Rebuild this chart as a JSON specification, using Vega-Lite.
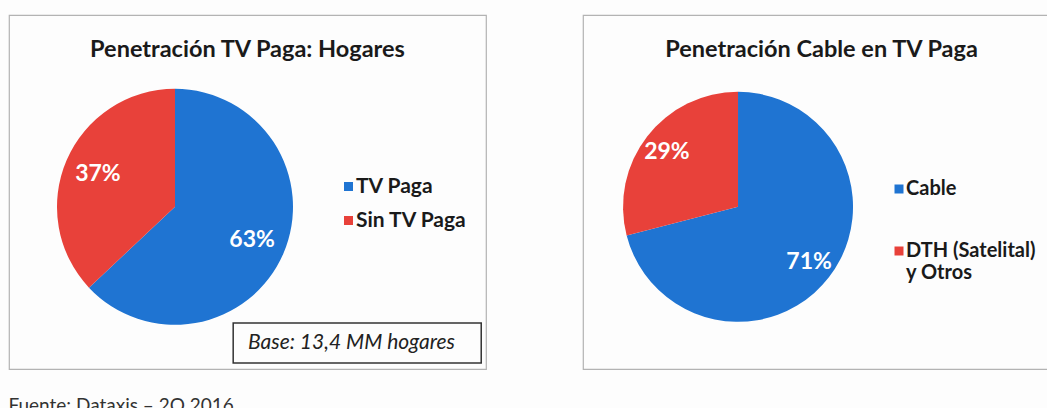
{
  "$schema": "https://vega.github.io/schema/vega-lite/v6.json",
  "background": "#fdfdfd",
  "padding": {"left": 8, "top": 14, "right": 0, "bottom": 0},
  "spacing": 95,
  "title": {"text": "Fuente: Dataxis – 2Q 2016", "orient": "bottom", "anchor": "start", "offset": 27, "font": "Lato", "fontSize": 19, "fontWeight": "normal", "color": "#333333"},
  "config": {"view": {"stroke": "#b3b3b3", "strokeWidth": 1.2}, "font": "Lato"},
  "resolve": {"scale": {"color": "independent", "theta": "independent", "x": "independent", "y": "independent"}, "legend": {"color": "independent"}},
  "hconcat": [
    {
      "width": 477,
      "height": 354,
      "title": {"text": "Penetración TV Paga: Hogares", "offset": -65, "baseline": "alphabetic", "fontSize": 23.5, "fontWeight": "bold", "color": "#1a1a1a", "anchor": "middle", "frame": "group"},
      "data": {"values": [
        {"categoria": "TV Paga", "valor": 0.63, "orden": 1},
        {"categoria": "Sin TV Paga", "valor": 0.37, "orden": 2}
      ]},
      "layer": [
        {
          "mark": {"type": "arc", "radius": 118},
          "encoding": {
            "theta": {"field": "valor", "type": "quantitative", "stack": true},
            "order": {"field": "orden", "type": "quantitative"},
            "color": {"field": "categoria", "type": "nominal", "scale": {"domain": ["TV Paga", "Sin TV Paga"], "range": ["#1f74d2", "#e8413a"]},
              "legend": {"orient": "none", "legendX": 329, "legendY": 161, "title": null, "symbolType": "square", "symbolSize": 81, "symbolStrokeWidth": 0, "labelFontSize": 21, "labelFontWeight": "bold", "labelColor": "#1a1a1a", "labelFont": "Lato", "rowPadding": 12, "labelOffset": -3, "padding": 0}},
            "x": {"datum": 0.348, "type": "quantitative", "scale": {"domain": [0, 1]}, "axis": null},
            "y": {"datum": 0.542, "type": "quantitative", "scale": {"domain": [1, 0]}, "axis": null}
          }
        },
        {
          "mark": {"type": "text", "radius": 84, "fontSize": 23, "fontWeight": "bold", "color": "white", "font": "Lato"},
          "encoding": {
            "theta": {"field": "valor", "type": "quantitative", "stack": true},
            "order": {"field": "orden", "type": "quantitative"},
            "detail": {"field": "categoria", "type": "nominal"},
            "text": {"field": "valor", "type": "quantitative", "format": ".0%"},
            "x": {"datum": 0.348, "type": "quantitative", "scale": {"domain": [0, 1]}, "axis": null},
            "y": {"datum": 0.542, "type": "quantitative", "scale": {"domain": [1, 0]}, "axis": null}
          }
        },
        {
          "data": {"values": [{"nota": "Base: 13,4 MM hogares"}]},
          "mark": {"type": "rect", "fill": null, "stroke": "#333333", "strokeWidth": 1.5},
          "encoding": {
            "x": {"datum": 0.47, "type": "quantitative", "scale": {"domain": [0, 1]}, "axis": null},
            "x2": {"datum": 0.99},
            "y": {"datum": 0.87, "type": "quantitative", "scale": {"domain": [1, 0]}, "axis": null},
            "y2": {"datum": 0.983}
          }
        },
        {
          "data": {"values": [{"nota": "Base: 13,4 MM hogares"}]},
          "mark": {"type": "text", "fontSize": 21, "fontStyle": "italic", "color": "#222222", "font": "Lato", "align": "center", "baseline": "middle"},
          "encoding": {
            "text": {"field": "nota", "type": "nominal"},
            "x": {"datum": 0.718, "type": "quantitative", "scale": {"domain": [0, 1]}, "axis": null},
            "y": {"datum": 0.926, "type": "quantitative", "scale": {"domain": [1, 0]}, "axis": null}
          }
        }
      ]
    },
    {
      "width": 477,
      "height": 354,
      "title": {"text": "Penetración Cable en TV Paga", "offset": -65, "baseline": "alphabetic", "fontSize": 23.5, "fontWeight": "bold", "color": "#1a1a1a", "anchor": "middle", "frame": "group"},
      "data": {"values": [
        {"categoria": "Cable", "valor": 0.71, "orden": 1},
        {"categoria": "DTH (Satelital) y Otros", "valor": 0.29, "orden": 2}
      ]},
      "layer": [
        {
          "mark": {"type": "arc", "radius": 115},
          "encoding": {
            "theta": {"field": "valor", "type": "quantitative", "stack": true},
            "order": {"field": "orden", "type": "quantitative"},
            "color": {"field": "categoria", "type": "nominal", "scale": {"domain": ["Cable", "DTH (Satelital) y Otros"], "range": ["#1f74d2", "#e8413a"]},
              "legend": {"orient": "none", "legendX": 306, "legendY": 164, "title": null, "symbolType": "square", "symbolSize": 81, "symbolStrokeWidth": 0, "labelFontSize": 20, "labelFontWeight": "bold", "labelColor": "#1a1a1a", "labelFont": "Lato", "rowPadding": 42, "labelOffset": -3, "padding": 0,
                "labelExpr": "datum.label == 'DTH (Satelital) y Otros' ? ['DTH (Satelital)', 'y Otros'] : datum.label"}},
            "x": {"datum": 0.325, "type": "quantitative", "scale": {"domain": [0, 1]}, "axis": null},
            "y": {"datum": 0.542, "type": "quantitative", "scale": {"domain": [1, 0]}, "axis": null}
          }
        },
        {
          "mark": {"type": "text", "radius": 90, "fontSize": 23, "fontWeight": "bold", "color": "white", "font": "Lato"},
          "encoding": {
            "theta": {"field": "valor", "type": "quantitative", "stack": true},
            "order": {"field": "orden", "type": "quantitative"},
            "detail": {"field": "categoria", "type": "nominal"},
            "text": {"field": "valor", "type": "quantitative", "format": ".0%"},
            "x": {"datum": 0.325, "type": "quantitative", "scale": {"domain": [0, 1]}, "axis": null},
            "y": {"datum": 0.542, "type": "quantitative", "scale": {"domain": [1, 0]}, "axis": null}
          }
        }
      ]
    }
  ]
}
